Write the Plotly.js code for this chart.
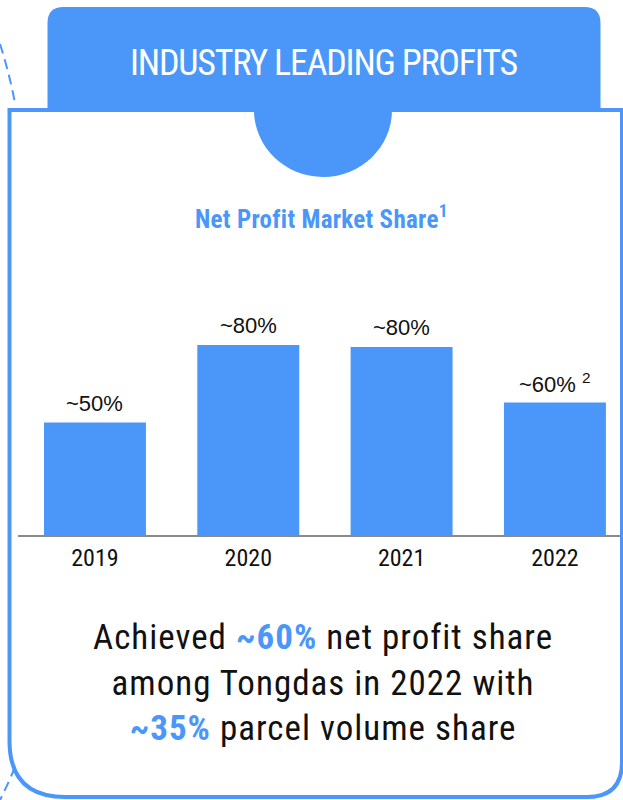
<!DOCTYPE html>
<html>
<head>
<meta charset="utf-8">
<script src="https://cdn.plot.ly/plotly-3.0.1.min.js"></script>
<style>
  html, body { margin: 0; padding: 0; background: #ffffff; }
  #chart { width: 623px; height: 800px; }
  svg text { font-stretch: 75%; }
</style>
</head>
<body>
<div id="chart"></div>
<script>
// ---- data ----
var years = ["2019", "2020", "2021", "2022"];
var shareValues = [47.4, 80, 79.2, 55.8];
var shareLabels = ["~50%", "~80%", "~80%", "~60% <sup>2</sup>"];
var headerTitle = "INDUSTRY LEADING PROFITS";
var chartSubtitle = "Net Profit Market Share<sup>1</sup>";
var summaryLines = [
  'Achieved <span style="color:#4a97f9"><b>~60%</b></span> net profit share',
  'among Tongdas in 2022 with',
  '<span style="color:#4a97f9"><b>~35%</b></span> parcel volume share'
];

// ---- style ----
var W = 623, H = 800;
var BLUE = "#4a97f9";
var FONT = 'Roboto, sans-serif';
var LABEL_FONT = '"Liberation Sans", Arial, sans-serif';
function X(px) { return px / W; }
function Y(py) { return 1 - py / H; }
function P(px, py) { return X(px).toFixed(5) + "," + Y(py).toFixed(5); }
function spaced(txt, ls) { return '<span style="letter-spacing:' + ls + 'px">' + txt + '</span>'; }

var cardL = 9.5, cardR = 622, cardT = 110, cardB = 797, rBL = 56, rBR = 35;
var cardPath = "M" + P(cardL, cardT) + " L" + P(cardR, cardT) +
  " L" + P(cardR, cardB - rBR) + " Q" + P(cardR, cardB) + " " + P(cardR - rBR, cardB) +
  " L" + P(cardL + rBL, cardB) + " Q" + P(cardL, cardB) + " " + P(cardL, cardB - rBL) + " Z";

var hL = 47.5, hR = 600.5, hT = 7, hB = 112, hr = 16;
var headerPath = "M" + P(hL, hB) + " L" + P(hL, hT + hr) + " Q" + P(hL, hT) + " " + P(hL + hr, hT) +
  " L" + P(hR - hr, hT) + " Q" + P(hR, hT) + " " + P(hR, hT + hr) + " L" + P(hR, hB) + " Z";

var cx = 323, rx = 69, sTop = 110, sBot = 177, k = 0.5523, ry = sBot - sTop;
var semiPath = "M" + P(cx - rx, sTop) +
  " C" + P(cx - rx, sTop + k * ry) + " " + P(cx - k * rx, sBot) + " " + P(cx, sBot) +
  " C" + P(cx + k * rx, sBot) + " " + P(cx + rx, sTop + k * ry) + " " + P(cx + rx, sTop) + " Z";

var dashTop = "M" + P(0, 44) + " Q" + P(9, 72) + " " + P(15, 103);
var dashBot = "M" + P(15, 767) + " Q" + P(8, 784) + " " + P(0, 800);

var trace = {
  type: "bar",
  x: years,
  y: shareValues,
  marker: { color: BLUE, line: { width: 0 } },
  hoverinfo: "skip"
};

var annotations = [];
for (var i = 0; i < years.length; i++) {
  annotations.push({
    xref: "x", yref: "y", x: i, y: shareValues[i],
    text: shareLabels[i], showarrow: false,
    xanchor: "center", yanchor: "middle", yshift: 19,
    font: { family: LABEL_FONT, size: 22, color: "#111111" }
  });
}
annotations.push({
  xref: "paper", yref: "paper", x: X(323), y: Y(63),
  text: spaced(headerTitle, -1.2), showarrow: false, xanchor: "center", yanchor: "middle",
  font: { family: FONT, size: 36, color: "#ffffff" }
});
annotations.push({
  xref: "paper", yref: "paper", x: X(321), y: Y(218),
  text: "<b>" + spaced(chartSubtitle, 0.3) + "</b>", showarrow: false, xanchor: "center", yanchor: "middle",
  font: { family: FONT, size: 25, color: BLUE }
});
annotations.push({
  xref: "paper", yref: "paper", x: X(323), y: Y(683),
  text: summaryLines.map(function (s) { return spaced(s, 1); }).join("<br>"),
  showarrow: false, xanchor: "center", yanchor: "middle",
  align: "center",
  font: { family: FONT, size: 35, color: "#111111" }
});

var layout = {
  width: W, height: H,
  margin: { l: 0, r: 0, t: 0, b: 0, pad: 0 },
  paper_bgcolor: "#ffffff", plot_bgcolor: "rgba(0,0,0,0)",
  showlegend: false,
  bargap: 0.335,
  xaxis: {
    domain: [18.3 / W, 1],
    type: "category",
    range: [-0.5, 3.444],
    showline: true, linecolor: "#8a8a8a", linewidth: 2,
    ticks: "", showgrid: false, zeroline: false,
    tickfont: { family: FONT, size: 24, color: "#111111" },
    fixedrange: true
  },
  yaxis: {
    domain: [Y(535), Y(297.5)],
    range: [0, 100],
    visible: false, showgrid: false, zeroline: false, fixedrange: true
  },
  shapes: [
    { type: "path", xref: "paper", yref: "paper", path: dashTop, line: { color: BLUE, width: 2, dash: "10px,6px" } },
    { type: "path", xref: "paper", yref: "paper", path: dashBot, line: { color: BLUE, width: 2, dash: "10px,6px" } },
    { type: "path", xref: "paper", yref: "paper", path: cardPath, line: { color: BLUE, width: 4 }, fillcolor: "rgba(0,0,0,0)" },
    { type: "path", xref: "paper", yref: "paper", path: headerPath, line: { width: 0 }, fillcolor: BLUE },
    { type: "path", xref: "paper", yref: "paper", path: semiPath, line: { width: 0 }, fillcolor: BLUE }
  ],
  annotations: annotations
};

Plotly.newPlot("chart", [trace], layout, { displayModeBar: false, staticPlot: true });
</script>
</body>
</html>
